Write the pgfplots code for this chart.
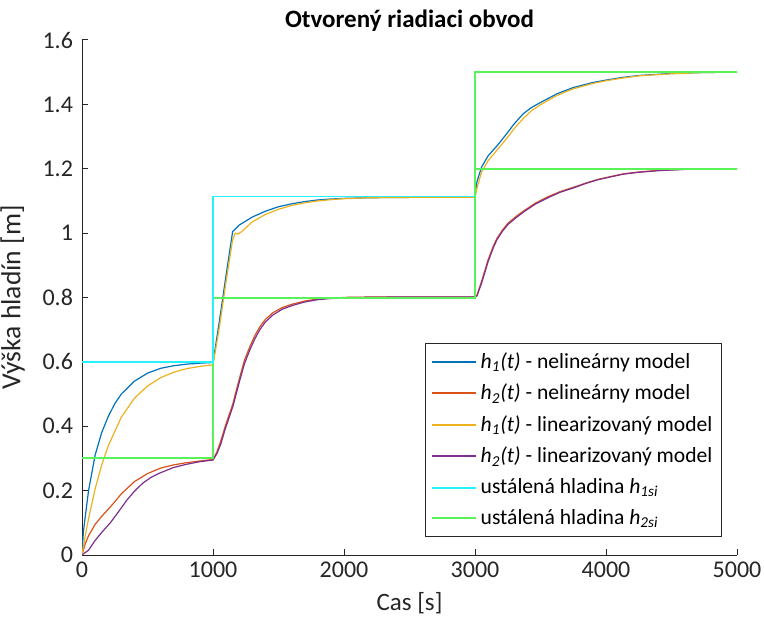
\documentclass[border=0pt]{standalone}
\usepackage{pgfplots}
\pgfplotsset{compat=1.18}
\usepackage{fontspec}
\setmainfont{Carlito}
\usetikzlibrary{calc}

\definecolor{mblue}{rgb}{0,0.447,0.741}
\definecolor{mred}{rgb}{0.85,0.325,0.098}
\definecolor{myellow}{rgb}{0.929,0.694,0.125}
\definecolor{mpurple}{rgb}{0.494,0.184,0.556}
\definecolor{mcyan}{rgb}{0.15,0.95,1}
\definecolor{mgreen}{rgb}{0.35,0.95,0.35}
\definecolor{axgray}{rgb}{0.15,0.15,0.15}

\begin{document}
\begin{tikzpicture}
\begin{axis}[
    scale only axis,
    width=327.5pt, height=257.5pt,
    xmin=0, xmax=5000, ymin=0, ymax=1.6,
    axis x line*=bottom, axis y line*=left,
    axis line style={axgray, line width=0.5pt},
    xtick={0,1000,2000,3000,4000,5000},
    ytick={0,0.2,0.4,0.6,0.8,1,1.2,1.4,1.6},
    tick align=inside, major tick length=3pt,
    tick style={axgray, line width=0.5pt},
    scaled x ticks=false,
    /pgf/number format/set thousands separator={},
    /pgf/number format/assume math mode=true,
    ticklabel style={font=\fontsize{12}{13}\selectfont, text=axgray},
    yticklabel style={xshift=-1pt},
    title={\textbf{Otvorený riadiaci obvod}},
    title style={font=\fontsize{12.5}{14}\selectfont, yshift=-5pt},
    xlabel={Cas [s]},
    ylabel={Výška hladín [m]},
    label style={text=axgray},
    xlabel style={font=\fontsize{12.5}{14}\selectfont, yshift=-0.5pt},
    ylabel style={font=\fontsize{13.8}{15}\selectfont, yshift=2pt},
    legend style={at={(0.977,0.035)}, anchor=south east,
        font=\fontsize{10.8}{12.5}\selectfont, draw=axgray, line width=0.5pt,
        cells={anchor=west}, row sep=2.4pt, inner sep=2.5pt},
    legend image code/.code={\draw[#1, line width=1pt] (0pt,0pt) -- (22pt,0pt);},
    every axis plot/.append style={line width=0.6pt},
]
% h1 nelinearny
\addplot[mblue] coordinates {
(0,0) (10,0.07) (25,0.12) (50,0.20) (100,0.31) (150,0.38) (200,0.43) (250,0.47)
(300,0.50) (400,0.54) (500,0.565) (600,0.58) (700,0.588) (800,0.593) (900,0.596)
(1000,0.598) (1050,0.73) (1100,0.87) (1150,1.005) (1200,1.025) (1300,1.05)
(1400,1.068) (1500,1.082) (1600,1.091) (1700,1.098) (1800,1.103) (1900,1.106)
(2000,1.108) (2200,1.110) (2500,1.111) (3000,1.111) (3015,1.16) (3050,1.205)
(3100,1.24) (3176,1.275) (3244,1.31) (3300,1.34) (3366,1.37) (3430,1.39)
(3496,1.405) (3626,1.433) (3748,1.452) (3900,1.468) (4008,1.476) (4130,1.484)
(4260,1.49) (4500,1.496) (4750,1.499) (5000,1.5)
};
\addlegendentry{\textit{h\textsubscript{1}(t)} - nelineárny model}
% h2 nelinearny
\addplot[mred] coordinates {
(0,0) (25,0.035) (50,0.06) (100,0.095) (150,0.12) (200,0.142) (250,0.165)
(300,0.19) (400,0.228) (500,0.253) (600,0.27) (700,0.28) (800,0.287) (900,0.292)
(1000,0.297) (1030,0.32) (1060,0.355) (1092,0.398) (1120,0.432) (1153,0.472)
(1180,0.515) (1206,0.555) (1240,0.605) (1282,0.648) (1320,0.682) (1359,0.71)
(1400,0.732) (1458,0.753) (1530,0.769) (1611,0.78) (1700,0.789) (1794,0.795)
(1900,0.798) (2046,0.801) (2500,0.802) (3000,0.802) (3015,0.807) (3053,0.854)
(3099,0.916) (3140,0.96) (3168,0.984) (3210,1.01) (3252,1.031) (3320,1.054)
(3382,1.072) (3460,1.093) (3557,1.113) (3650,1.129) (3763,1.144) (3850,1.156)
(3939,1.167) (4050,1.177) (4130,1.184) (4250,1.19) (4400,1.195) (4600,1.198)
(5000,1.2)
};
\addlegendentry{\textit{h\textsubscript{2}(t)} - nelineárny model}
% h1 linearizovany
\addplot[myellow] coordinates {
(0,0) (25,0.06) (50,0.113) (100,0.205) (150,0.279) (200,0.339) (300,0.428)
(400,0.487) (500,0.525) (600,0.551) (700,0.568) (800,0.579) (900,0.586)
(1000,0.591) (1050,0.71) (1100,0.85) (1150,0.98) (1170,1.0) (1190,0.997)
(1220,1.005) (1300,1.035) (1400,1.058) (1500,1.074) (1600,1.086) (1700,1.094)
(1800,1.10) (1900,1.104) (2000,1.107) (2200,1.110) (2500,1.111) (3000,1.111)
(3015,1.14) (3050,1.19) (3100,1.225) (3176,1.262) (3244,1.295) (3300,1.325)
(3366,1.355) (3430,1.38) (3496,1.398) (3626,1.428) (3748,1.448) (3900,1.465)
(4008,1.474) (4130,1.482) (4260,1.489) (4500,1.495) (4750,1.499) (5000,1.5)
};
\addlegendentry{\textit{h\textsubscript{1}(t)} - linearizovaný model}
% h2 linearizovany
\addplot[mpurple] coordinates {
(0,0) (50,0.015) (100,0.045) (150,0.07) (214,0.099) (280,0.135) (343,0.171)
(400,0.198) (466,0.224) (530,0.242) (595,0.255) (700,0.272) (800,0.282)
(900,0.29) (1000,0.295) (1030,0.315) (1060,0.345) (1092,0.39) (1120,0.423)
(1153,0.463) (1180,0.505) (1206,0.545) (1240,0.594) (1282,0.638) (1320,0.672)
(1359,0.701) (1400,0.724) (1458,0.746) (1530,0.764) (1611,0.776) (1700,0.786)
(1794,0.793) (1900,0.797) (2046,0.8) (2500,0.802) (3000,0.802) (3015,0.805)
(3053,0.848) (3099,0.91) (3140,0.955) (3168,0.98) (3210,1.006) (3252,1.027)
(3320,1.05) (3382,1.069) (3460,1.09) (3557,1.11) (3650,1.127) (3763,1.142)
(3850,1.155) (3939,1.166) (4050,1.176) (4130,1.183) (4250,1.189) (4400,1.194)
(4600,1.198) (5000,1.2)
};
\addlegendentry{\textit{h\textsubscript{2}(t)} - linearizovaný model}
% ustalene hladiny
\addplot[mgreen, line width=1pt, forget plot] coordinates {
(0,0.3) (1000,0.3) (1000,0.8) (3000,0.8) (3000,1.5) (5000,1.5)
};
\addplot[mgreen, line width=1pt, forget plot] coordinates {
(3000,1.2) (5000,1.2)
};
\addplot[mcyan, line width=0.75pt] coordinates {
(0,0.6) (1000,0.6) (1000,1.114) (3000,1.114)
};
\addlegendentry{ustálená hladina \textit{h\textsubscript{1si}}}
\addlegendimage{mgreen, line width=1pt}
\addlegendentry{ustálená hladina \textit{h\textsubscript{2si}}}
\end{axis}
\pgfresetboundingbox
\path ($(current axis.south west)+(-41pt,-30.5pt)$) rectangle ($(current axis.north east)+(13.5pt,20pt)$);
\end{tikzpicture}
\end{document}
